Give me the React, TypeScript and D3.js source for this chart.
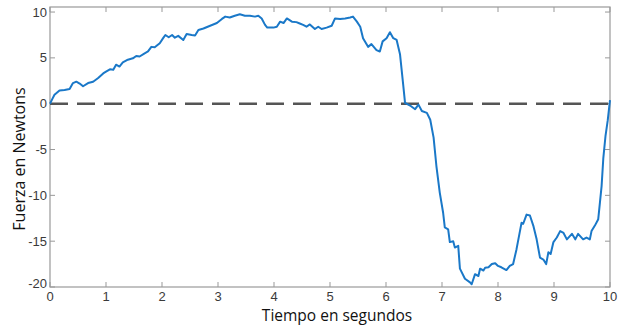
import React from 'react';
import * as d3 from 'd3';

// tiempo (s) y fuerza (N)
const tiempo = [
  0.0, 0.04, 0.08, 0.17, 0.26, 0.35, 0.41, 0.47, 0.53, 0.59, 0.68, 0.77, 0.86, 0.95, 1.0, 1.07, 1.13, 1.18, 1.24, 1.3,
  1.39, 1.48, 1.54, 1.6, 1.69, 1.75, 1.81, 1.87, 1.96, 2.02, 2.06, 2.12, 2.18, 2.23, 2.29, 2.38, 2.44, 2.53, 2.59, 2.65,
  2.74, 2.86, 2.98, 3.07, 3.13, 3.21, 3.3, 3.39, 3.48, 3.57, 3.66, 3.72, 3.78, 3.84, 3.88, 3.99, 4.05, 4.11, 4.17, 4.23,
  4.32, 4.4, 4.46, 4.52, 4.58, 4.64, 4.73, 4.79, 4.85, 4.94, 5.03, 5.09, 5.18, 5.27, 5.36, 5.41, 5.48, 5.54, 5.59, 5.68,
  5.74, 5.83, 5.89, 5.94, 6.01, 6.07, 6.13, 6.19, 6.25, 6.31, 6.34, 6.43, 6.52, 6.58, 6.64, 6.73, 6.79, 6.85, 6.9, 6.96,
  7.02, 7.05, 7.11, 7.14, 7.2, 7.23, 7.29, 7.32, 7.41, 7.5, 7.53, 7.59, 7.65, 7.68, 7.74, 7.77, 7.83, 7.89, 7.95, 8.0,
  8.06, 8.15, 8.21, 8.27, 8.33, 8.42, 8.45, 8.51, 8.57, 8.63, 8.69, 8.75, 8.81, 8.86, 8.9, 8.94, 8.99, 9.05, 9.11, 9.17,
  9.23, 9.32, 9.38, 9.43, 9.52, 9.58, 9.64, 9.67, 9.73, 9.79, 9.82, 9.85, 9.88, 9.92, 9.96, 10.0,
];
const fuerza = [
  0.0, 0.5, 0.98, 1.45, 1.5, 1.6, 2.25, 2.4, 2.2, 1.9, 2.25, 2.4, 2.8, 3.3, 3.5, 3.75, 3.7, 4.25, 4.05, 4.5,
  4.8, 4.95, 5.2, 5.15, 5.5, 5.7, 6.2, 6.15, 6.6, 7.15, 7.5, 7.25, 7.5, 7.2, 7.4, 6.95, 7.6, 7.5, 7.45, 8.05,
  8.2, 8.5, 8.8, 9.25, 9.5, 9.4, 9.6, 9.75, 9.6, 9.6, 9.5, 9.6, 9.3, 8.6, 8.3, 8.3, 8.4, 8.95, 8.8, 9.3,
  8.95, 8.9, 8.75, 8.6, 8.4, 8.65, 8.15, 8.4, 8.15, 8.3, 8.5, 9.3, 9.25, 9.3, 9.4, 9.5, 8.95, 8.4, 7.15, 6.2,
  6.5, 5.85, 5.7, 6.8, 7.15, 7.8, 7.15, 6.95, 5.4, 1.9, 0.1, -0.2, -0.6, -0.1, -0.8, -1.0, -1.75, -3.7, -6.8, -9.7,
  -11.9, -13.5, -13.7, -15.1, -15.0, -15.7, -15.5, -18.0, -19.1, -19.5, -19.7, -18.6, -18.8, -18.0, -18.2, -17.9, -17.85, -17.5, -17.4, -17.7,
  -17.85, -18.15, -17.7, -17.5, -15.9, -13.0, -13.1, -12.1, -12.2, -13.3, -14.8, -16.8, -17.0, -17.5, -16.2, -16.4, -15.1, -14.6, -13.9, -14.1,
  -14.8, -14.2, -14.8, -14.2, -14.8, -14.6, -14.8, -13.9, -13.3, -12.6, -10.8, -9.0, -6.0, -3.5, -1.8, 0.4,
];
const xTicks = [0, 1, 2, 3, 4, 5, 6, 7, 8, 9, 10];
const yTicks = [-20, -15, -10, -5, 0, 5, 10];

const W = 621;
const H = 326;
const m = { l: 50, r: 11, t: 7, b: 39 };

const App = () => {
  const x = d3.scaleLinear().domain([0, 10]).range([m.l, W - m.r]);
  const y = d3.scaleLinear().domain([-20, 10.55]).range([H - m.b, m.t]);
  const pts = tiempo.map((t, i) => [t, fuerza[i]] as [number, number]);
  const line = d3.line<[number, number]>().x((d) => x(d[0])).y((d) => y(d[1]));
  const x0 = m.l, x1 = W - m.r, y0 = H - m.b, y1 = m.t;
  const axisColor = '#999999';
  const txt = '#3a3a3a';

  return (
    <svg width={W} height={H} style={{ position: 'absolute', left: 0, top: 0 }}>
      <rect width={W} height={H} fill="#fff" />
      {/* marco */}
      <rect x={x0} y={y1} width={x1 - x0} height={y0 - y1} fill="none" stroke={axisColor} strokeWidth={1.2} />
      {xTicks.map((t) => (
        <g key={'x' + t}>
          <line x1={x(t)} x2={x(t)} y1={y0} y2={y0 - 5} stroke={axisColor} />
          <line x1={x(t)} x2={x(t)} y1={y1} y2={y1 + 5} stroke={axisColor} />
          <text x={x(t)} y={y0 + 14} textAnchor="middle" fontFamily="Liberation Sans, Arial" fontSize={13} fill={txt}>
            {t}
          </text>
        </g>
      ))}
      {yTicks.map((v) => (
        <g key={'y' + v}>
          <line x1={x0} x2={x0 + 5} y1={y(v)} y2={y(v)} stroke={axisColor} />
          <line x1={x1} x2={x1 - 5} y1={y(v)} y2={y(v)} stroke={axisColor} />
          <text
            x={x0 - 3}
            y={Math.min(y(v), y0 - 4)}
            dy="0.35em"
            textAnchor="end"
            fontFamily="Liberation Sans, Arial"
            fontSize={13}
            fill={txt}
          >
            {v}
          </text>
        </g>
      ))}
      <line x1={x0} x2={x1} y1={y(0)} y2={y(0)} stroke="#555" strokeWidth={2.5} strokeDasharray="18,9" />
      <path d={line(pts) || ''} fill="none" stroke="#1a78c8" strokeWidth={2} strokeLinejoin="round" />
      <text x={337} y={321} textAnchor="middle" fontFamily="Open Sans" fontSize={15.5} fill="#111">
        Tiempo en segundos
      </text>
      <text
        transform={`translate(25, 159) rotate(-90)`}
        textAnchor="middle"
        fontFamily="Open Sans"
        fontSize={16}
        fill="#111"
      >
        Fuerza en Newtons
      </text>
    </svg>
  );
};

export default App;
